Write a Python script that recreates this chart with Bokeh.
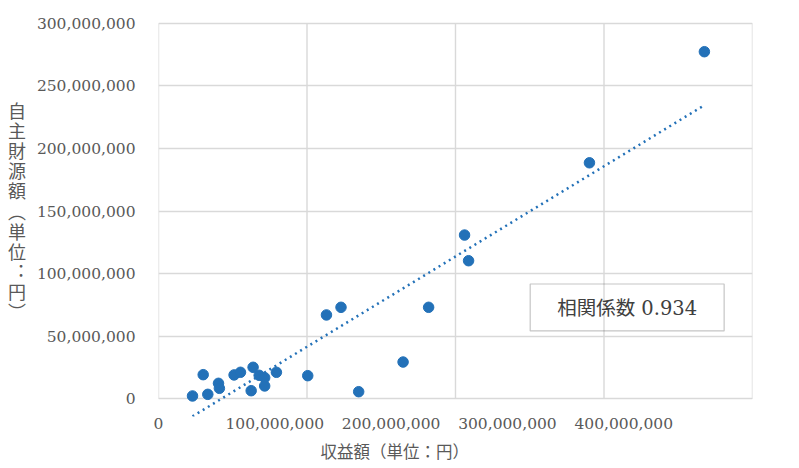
import numpy as np
from bokeh.plotting import figure
from bokeh.models import (Range1d, LinearAxis, FixedTicker, Label, Title,
                          BoxAnnotation, NumeralTickFormatter)
from bokeh.embed import file_html
from bokeh.resources import INLINE

# 収益額 (x) と 自主財源額 (y)、単位：円
revenue = [367_600_000, 290_200_000, 206_100_000, 208_800_000, 181_900_000,
           122_900_000, 113_100_000, 164_700_000, 134_800_000, 100_500_000,
           22_900_000, 30_100_000, 33_200_000, 40_400_000, 41_000_000,
           50_900_000, 55_200_000, 63_700_000, 62_400_000, 67_800_000,
           71_500_000, 71_500_000, 79_400_000]
own_revenue = [277_300_000, 188_600_000, 130_900_000, 110_400_000, 73_200_000,
               73_200_000, 67_100_000, 29_500_000, 5_800_000, 18_600_000,
               2_400_000, 19_400_000, 3_700_000, 12_500_000, 8_500_000,
               19_200_000, 21_300_000, 25_300_000, 6_600_000, 18_900_000,
               17_000_000, 10_400_000, 21_300_000]

x_ticks = [0, 100_000_000, 200_000_000, 300_000_000, 400_000_000]
y_ticks = [0, 50_000_000, 100_000_000, 150_000_000, 200_000_000,
           250_000_000, 300_000_000]

x_title = "収益額（単位：円）"
y_title = "\n".join(["自", "主", "財", "源", "額", "︵", "単", "位", "︓", "円", "︶"])
corr_text = "相関係数 0.934"

BLUE = "#2371B8"
GRID = "#d9d9d9"
TICK_TEXT = "#595959"
NUM_FONT = "'DejaVu Serif', 'Noto Sans CJK JP'"
JP_FONT = "'Noto Sans CJK JP'"

# the y range leaves a margin around 0..300M so the trend line can run
# slightly below zero, as in a spreadsheet chart
p = figure(width=799, height=468, output_backend="svg", toolbar_location=None,
           x_range=Range1d(0, 400_000_000),
           y_range=Range1d(-14_000_000, 315_000_000),
           min_border_left=158, min_border_right=47,
           min_border_top=4, min_border_bottom=52)
p.outline_line_color = None
p.background_fill_color = "white"
p.border_fill_color = "white"

# grid: horizontal lines from the y ticks, vertical lines only across 0..300M
p.xgrid.visible = False
p.ygrid.ticker = FixedTicker(ticks=y_ticks)
p.ygrid.grid_line_color = GRID
p.ygrid.grid_line_width = 1.4
p.segment(x0=x_ticks, y0=[y_ticks[0]] * len(x_ticks),
          x1=x_ticks, y1=[y_ticks[-1]] * len(x_ticks),
          line_color=GRID, line_width=1.4)

# y axis
p.yaxis.ticker = FixedTicker(ticks=y_ticks)
p.yaxis.formatter = NumeralTickFormatter(format="0,0")
p.yaxis.axis_line_color = None
p.yaxis.major_tick_line_color = None
p.yaxis.minor_tick_line_color = None
p.yaxis.major_label_standoff = 17
p.yaxis.major_label_text_font = NUM_FONT
p.yaxis.major_label_text_font_size = "15.5px"
p.yaxis.major_label_text_color = TICK_TEXT
p.yaxis.axis_label = y_title
p.yaxis.axis_label_orientation = "horizontal"
p.yaxis.axis_label_standoff = 8
p.yaxis.axis_label_text_font = JP_FONT
p.yaxis.axis_label_text_font_size = "18px"
p.yaxis.axis_label_text_font_style = "normal"
p.yaxis.axis_label_text_line_height = 0.775
p.yaxis.axis_label_text_color = TICK_TEXT

# x axis: tick labels are laid out on their own scale below the frame
p.xaxis.visible = False
p.extra_x_ranges = {"xlab": Range1d(0, 510_700_000)}
xlab_axis = LinearAxis(x_range_name="xlab", ticker=FixedTicker(ticks=x_ticks),
                       formatter=NumeralTickFormatter(format="0,0"))
xlab_axis.axis_line_color = None
xlab_axis.major_tick_line_color = None
xlab_axis.minor_tick_line_color = None
xlab_axis.major_tick_out = 0
xlab_axis.major_label_standoff = 1
xlab_axis.major_label_text_font = NUM_FONT
xlab_axis.major_label_text_font_size = "15.5px"
xlab_axis.major_label_text_color = TICK_TEXT
p.add_layout(xlab_axis, "below")

p.add_layout(Title(text=x_title, align="left", offset=162, standoff=11,
                   text_font=JP_FONT, text_font_size="16.5px",
                   text_font_style="normal", text_color=TICK_TEXT), "below")

# points
p.scatter(revenue, own_revenue, size=10.5, fill_color=BLUE, line_color=BLUE)

# linear trend line fitted to the points
xs = np.array(revenue, dtype=float)
ys = np.array(own_revenue, dtype=float)
slope, intercept = np.polyfit(xs, ys, 1)
tx = np.array([xs.min(), xs.max()])
p.line(tx, slope * tx + intercept, line_color=BLUE, line_width=2.5,
       line_dash="2 4")

# correlation box
p.add_layout(BoxAnnotation(left=250_300_000, right=380_900_000,
                           bottom=54_300_000, top=91_800_000,
                           fill_alpha=0, line_color="#404040", line_width=1.2))
p.add_layout(Label(x=315_600_000, y=72_500_000, text=corr_text,
                   text_align="center", text_baseline="middle",
                   text_font=NUM_FONT, text_font_size="19.5px",
                   text_color="#404040"))

open("out.html", "w").write(file_html(p, INLINE))
